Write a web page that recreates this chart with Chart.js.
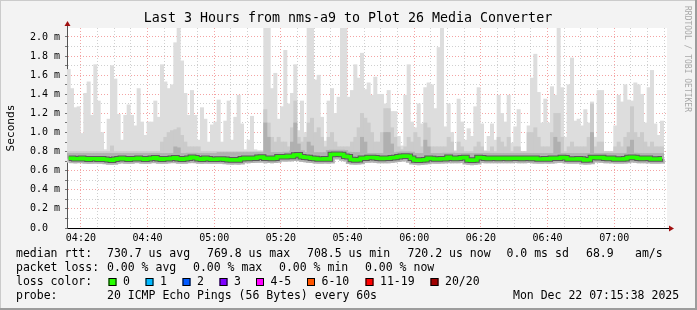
<!DOCTYPE html>
<html>
<head>
<meta charset="utf-8">
<script src="https://cdn.jsdelivr.net/npm/chart.js@4.4.1/dist/chart.umd.min.js"></script>
<style>
  html, body { margin: 0; padding: 0; background: #f3f3f3; }
  #wrap { width: 697px; height: 310px; }
</style>
</head>
<body>
<div id="wrap"><canvas id="smoke" width="697" height="310"></canvas></div>
<script>
// one column per minute, 04:15:50 .. 07:15:50 (values in ms)
const startMin = 4 * 60 + 15 + 50 / 60;
const stepCount = 180;

const maxRtt = [
  1.66,1.46,1.26,1.27,0.99,1.41,1.53,1.18,1.71,1.33,1.00,0.82,1.14,1.70,1.56,1.19,0.92,1.18,1.29,1.18,1.07,1.46,1.11,
  0.97,1.11,1.11,1.33,1.16,1.71,1.53,1.46,1.50,1.94,2.10,1.75,1.41,1.18,1.44,1.18,0.92,1.26,1.14,0.90,1.08,1.11,
  1.34,0.90,1.12,1.33,0.92,1.16,1.39,1.09,0.82,0.92,1.17,0.82,0.81,0.81,2.10,2.10,1.46,1.62,1.14,1.27,1.86,1.30,1.41,
  1.71,1.02,1.33,1.00,2.10,2.10,1.55,1.60,1.16,0.91,1.33,1.46,1.20,1.37,2.10,2.10,1.37,1.44,1.71,1.57,1.83,1.45,
  1.52,1.39,1.58,1.40,1.40,1.30,1.44,1.22,1.22,0.96,0.86,1.39,1.71,1.11,1.05,1.30,1.09,1.47,1.52,1.50,1.25,1.89,2.10,
  1.06,1.30,1.00,0.81,1.35,1.11,0.92,1.04,0.96,1.27,1.47,1.09,0.81,0.96,1.09,0.92,1.39,1.20,1.11,1.39,0.89,1.06,
  1.24,0.80,0.80,1.07,1.57,1.82,1.42,1.10,1.35,1.10,1.48,1.39,2.10,1.47,0.95,1.50,1.78,1.12,1.14,1.07,1.24,1.10,
  1.32,0.95,1.44,1.44,0.80,0.80,0.80,1.07,1.39,1.32,1.50,1.34,1.33,1.52,1.50,1.40,1.10,1.47,1.65,1.09,0.97,1.12,
  null
];

const midRtt = [
  0.80,0.80,0.80,0.80,0.80,0.80,0.80,0.80,0.80,0.80,0.80,0.80,0.80,0.86,0.80,0.80,0.80,0.80,0.80,0.80,0.80,0.80,0.80,
  0.80,0.80,0.80,0.80,0.80,0.90,0.95,1.00,1.02,1.03,1.05,0.97,0.90,0.85,0.85,0.85,0.85,0.80,0.80,0.80,0.80,0.80,
  0.80,0.80,0.80,0.80,0.80,0.80,0.80,0.80,0.80,0.80,0.80,0.80,0.80,0.80,1.24,1.10,0.95,0.90,0.95,0.90,0.90,0.85,1.05,
  1.33,0.95,0.90,0.95,1.10,1.15,1.00,1.05,0.95,0.85,0.95,1.00,0.90,0.85,0.85,0.85,0.85,0.90,0.95,1.05,1.20,1.15,
  1.10,1.00,0.90,0.90,1.00,1.25,1.25,1.05,0.95,0.85,0.82,0.85,0.95,0.90,1.00,0.95,0.85,1.10,1.05,0.85,0.85,0.85,0.85,
  0.85,0.95,0.90,0.80,0.90,0.85,0.80,0.80,0.80,0.85,0.90,0.85,0.80,0.80,0.85,0.80,0.95,0.90,0.85,0.95,0.80,0.85,
  0.85,0.80,0.80,1.00,1.00,1.05,0.95,0.85,0.85,0.85,1.00,1.20,1.20,0.95,0.80,0.85,0.90,0.85,0.85,0.85,0.85,0.95,
  1.30,0.85,0.90,0.90,0.80,0.80,0.80,0.85,0.90,0.85,0.95,1.00,1.27,1.00,0.95,1.00,0.90,0.85,0.90,0.85,0.85,0.85,
  null
];

const darkRtt = [
  0.78,0.78,0.78,0.78,0.78,0.78,0.78,0.78,0.78,0.78,0.78,0.78,0.78,0.78,0.78,0.78,0.78,0.78,0.78,0.78,0.78,0.78,0.78,
  0.78,0.78,0.78,0.78,0.78,0.78,0.78,0.78,0.78,0.85,0.84,0.78,0.78,0.78,0.78,0.78,0.78,0.78,0.78,0.78,0.78,0.78,
  0.79,0.79,0.79,0.79,0.79,0.79,0.79,0.79,0.79,0.79,0.79,0.79,0.79,0.79,1.10,0.95,0.79,0.79,0.79,0.79,0.79,0.79,0.90,
  1.10,0.88,0.79,0.79,0.90,0.86,0.79,0.79,0.79,0.79,0.79,0.79,0.79,0.79,0.79,0.79,0.79,0.79,0.79,0.79,0.95,0.90,
  0.78,0.78,0.78,0.78,0.78,1.00,1.00,0.88,0.78,0.78,0.78,0.78,0.78,0.78,0.78,0.78,0.78,0.92,0.85,0.78,0.78,0.78,0.78,
  0.78,0.78,0.78,0.78,0.78,0.78,0.78,0.78,0.78,0.78,0.78,0.78,0.78,0.78,0.78,0.78,0.78,0.78,0.78,0.78,0.78,0.78,
  0.78,0.78,0.78,0.78,0.78,0.78,0.78,0.78,0.78,0.78,0.78,0.95,0.90,0.78,0.78,0.78,0.78,0.78,0.78,0.78,0.78,0.78,
  1.00,0.78,0.78,0.78,0.78,0.78,0.78,0.78,0.78,0.78,0.78,0.85,0.92,0.78,0.78,0.78,0.78,0.78,0.78,0.78,0.78,0.78,
  null
];

const minRtt = [
  0.69,0.685,0.68,0.685,0.69,0.685,0.675,0.68,0.685,0.68,0.68,0.675,0.67,0.665,0.675,0.68,0.685,0.68,0.675,0.68,0.685,0.69,0.68,
  0.675,0.68,0.685,0.69,0.68,0.675,0.68,0.68,0.685,0.69,0.68,0.675,0.68,0.685,0.69,0.69,0.68,0.675,0.685,0.68,0.675,0.675,
  0.68,0.68,0.675,0.67,0.665,0.67,0.665,0.68,0.685,0.68,0.685,0.685,0.69,0.695,0.68,0.685,0.68,0.685,0.695,0.70,0.695,0.70,0.70,
  0.71,0.715,0.695,0.69,0.69,0.685,0.68,0.675,0.675,0.68,0.675,0.715,0.72,0.72,0.715,0.70,0.695,0.67,0.665,0.67,0.68,0.685,
  0.69,0.69,0.685,0.68,0.68,0.68,0.68,0.685,0.69,0.695,0.70,0.70,0.70,0.68,0.665,0.66,0.665,0.67,0.68,0.68,0.675,0.675,0.68,
  0.68,0.69,0.68,0.68,0.68,0.685,0.69,0.665,0.66,0.665,0.69,0.685,0.68,0.68,0.68,0.68,0.68,0.68,0.68,0.68,0.68,0.685,
  0.68,0.68,0.68,0.685,0.68,0.68,0.675,0.675,0.68,0.675,0.68,0.68,0.685,0.69,0.685,0.675,0.675,0.675,0.68,0.675,0.665,0.67,
  0.69,0.69,0.685,0.69,0.68,0.68,0.685,0.675,0.675,0.675,0.68,0.69,0.69,0.69,0.68,0.68,0.68,0.685,0.675,0.675,0.675,0.68,
  null
];

const medianRtt = [
  0.73,0.73,0.725,0.725,0.73,0.725,0.72,0.725,0.725,0.72,0.725,0.72,0.715,0.71,0.72,0.725,0.73,0.725,0.72,0.725,0.725,0.73,0.725,
  0.72,0.725,0.73,0.735,0.725,0.72,0.725,0.725,0.73,0.735,0.725,0.72,0.725,0.73,0.74,0.735,0.725,0.72,0.73,0.725,0.72,0.72,
  0.723,0.723,0.72,0.715,0.712,0.715,0.712,0.725,0.73,0.728,0.73,0.73,0.74,0.744,0.73,0.73,0.728,0.73,0.745,0.747,0.745,0.75,0.748,
  0.765,0.768,0.745,0.74,0.738,0.73,0.728,0.723,0.722,0.725,0.723,0.77,0.772,0.772,0.77,0.75,0.745,0.718,0.712,0.715,0.73,0.73,
  0.737,0.737,0.735,0.73,0.728,0.73,0.73,0.735,0.737,0.745,0.752,0.755,0.75,0.73,0.712,0.71,0.712,0.715,0.73,0.728,0.722,0.723,0.725,
  0.725,0.742,0.73,0.728,0.73,0.735,0.737,0.712,0.71,0.712,0.737,0.735,0.73,0.728,0.73,0.73,0.728,0.73,0.73,0.728,0.73,0.73,
  0.73,0.728,0.73,0.73,0.728,0.73,0.722,0.723,0.725,0.723,0.73,0.73,0.73,0.737,0.735,0.723,0.722,0.723,0.725,0.723,0.712,0.715,
  0.737,0.738,0.735,0.737,0.73,0.728,0.73,0.723,0.722,0.723,0.725,0.738,0.74,0.737,0.73,0.728,0.73,0.73,0.723,0.722,0.723,0.725,
  null
];

const yTicks = [0,0.1,0.2,0.3,0.4,0.5,0.6,0.7,0.8,0.9,1.0,1.1,1.2,1.3,1.4,1.5,1.6,1.7,1.8,1.9,2.0];

const statLines = [
  { y: 254, parts: [[16, 'median rtt:'], [107, '730.7 us avg'], [207, '769.8 us max'], [307, '708.5 us min'],
                    [407.5, '720.2 us now'], [506.5, '0.0 ms sd'], [586, '68.9'], [635, 'am/s']] },
  { y: 268, parts: [[16, 'packet loss:'], [107, '0.00 % avg'], [193, '0.00 % max'], [279, '0.00 % min'], [365, '0.00 % now']] },
  { y: 282, parts: [[16, 'loss color:']] },
  { y: 296, parts: [[16, 'probe:'], [107, '20 ICMP Echo Pings (56 Bytes) every 60s'], [513, 'Mon Dec 22 07:15:38 2025']] }
];

const lossLabels = ['0', '1', '2', '3', '4-5', '6-10', '11-19', '20/20'];
const lossColors = ['#26ff00', '#00b8ff', '#0059ff', '#7e00ff', '#ff00ff', '#ff5500', '#ff0000', '#a00000'];
const lossBoxX = [108.5, 145.5, 182.5, 219.5, 256, 307, 365.5, 430.5];

const mono = '"DejaVu Sans Mono", monospace';
const pad2 = n => String(n).padStart(2, '0');
const hhmm = m => pad2(Math.floor(m / 60)) + ':' + pad2(Math.round(m % 60));

const labels = [];
for (let i = 0; i < stepCount; i++) labels.push(hhmm(startMin + i));

const decor = {
  id: 'decor',
  beforeDraw(chart) {
    const { ctx, chartArea: a } = chart;
    ctx.save();
    ctx.fillStyle = '#f3f3f3';
    ctx.fillRect(0, 0, 697, 310);
    ctx.fillStyle = '#cbcbcb';
    ctx.fillRect(0, 0, 697, 1);
    ctx.fillRect(0, 0, 1, 310);
    ctx.fillStyle = '#9c9c9c';
    ctx.fillRect(0, 308, 697, 2);
    ctx.fillRect(695, 0, 2, 310);
    ctx.fillStyle = '#ffffff';
    ctx.fillRect(a.left, a.top, a.right - a.left, a.bottom - a.top);
    ctx.restore();
  },
  afterDraw(chart) {
    const { ctx, chartArea: a } = chart;
    ctx.save();
    // axis extensions and arrows
    ctx.strokeStyle = '#555';
    ctx.lineWidth = 1;
    ctx.beginPath();
    ctx.moveTo(a.left + 0.5, a.top);
    ctx.lineTo(a.left + 0.5, a.top - 3);
    ctx.stroke();
    ctx.strokeStyle = '#000';
    ctx.beginPath();
    ctx.moveTo(a.right, a.bottom + 0.5);
    ctx.lineTo(a.right + 3, a.bottom + 0.5);
    ctx.stroke();
    ctx.fillStyle = '#a01010';
    ctx.beginPath();
    ctx.moveTo(a.left + 0.5, a.top - 7);
    ctx.lineTo(a.left - 2.5, a.top - 2);
    ctx.lineTo(a.left + 3.5, a.top - 2);
    ctx.closePath();
    ctx.fill();
    ctx.beginPath();
    ctx.moveTo(a.right + 7, a.bottom + 0.5);
    ctx.lineTo(a.right + 2, a.bottom - 2.5);
    ctx.lineTo(a.right + 2, a.bottom + 3.5);
    ctx.closePath();
    ctx.fill();

    // title
    ctx.fillStyle = '#000';
    ctx.font = '13.3px ' + mono;
    ctx.textAlign = 'center';
    ctx.textBaseline = 'middle';
    ctx.fillText('Last 3 Hours from nms-a9 to Plot 26 Media Converter', 348, 19);

    // y axis title
    ctx.save();
    ctx.translate(11, 128);
    ctx.rotate(-Math.PI / 2);
    ctx.font = '11.2px ' + mono;
    ctx.fillText('Seconds', 0, 0);
    ctx.restore();

    // watermark
    ctx.save();
    ctx.translate(687.5, 59);
    ctx.rotate(Math.PI / 2);
    ctx.font = '8px ' + mono;
    ctx.fillStyle = '#a8a8a8';
    ctx.fillText('RRDTOOL / TOBI OETIKER', 0, 0);
    ctx.restore();

    // legend text
    ctx.font = '11.5px ' + mono;
    ctx.textAlign = 'left';
    ctx.fillStyle = '#000';
    statLines.forEach(line => {
      line.parts.forEach(([x, t]) => ctx.fillText(t, x, line.y));
    });
    lossLabels.forEach((t, i) => {
      const x = lossBoxX[i];
      ctx.fillStyle = lossColors[i];
      ctx.fillRect(x, 278, 8, 8);
      ctx.strokeStyle = '#000';
      ctx.lineWidth = 1;
      ctx.strokeRect(x + 0.5, 278.5, 7, 7);
      ctx.fillStyle = '#000';
      ctx.fillText(t, x + 14.5, 282);
    });
    ctx.restore();
  }
};

const minorGrid = 'rgba(150,150,150,0.45)';
const majorGrid = 'rgba(235,90,90,0.55)';
const noPad = axis => { axis.paddingLeft = 0; axis.paddingRight = 0; axis.paddingTop = 0; axis.paddingBottom = 0; };

new Chart(document.getElementById('smoke'), {
  type: 'bar',
  data: {
    labels: labels,
    datasets: [
      { type: 'line', data: medianRtt, borderColor: '#26ff00', borderWidth: 3.5, pointRadius: 0,
        stepped: 'middle', order: 0, borderCapStyle: 'butt' },
      { type: 'line', data: medianRtt, borderColor: '#5a5a5a', borderWidth: 5.5, pointRadius: 0,
        stepped: 'middle', order: 1, borderCapStyle: 'butt' },
      { type: 'line', data: medianRtt, borderColor: '#b2b2b2', borderWidth: 9, pointRadius: 0,
        stepped: 'middle', order: 2, borderCapStyle: 'butt' },
      { data: medianRtt.map((m, i) => darkRtt[i] == null ? null : [m, darkRtt[i]]),
        backgroundColor: '#b0b0b0', order: 3 },
      { data: minRtt.map((lo, i) => lo == null ? null : [lo, midRtt[i]]),
        backgroundColor: '#cbcbcb', order: 4 },
      { data: minRtt.map((lo, i) => lo == null ? null : [lo, maxRtt[i]]),
        backgroundColor: '#dddddd', order: 5 }
    ]
  },
  options: {
    responsive: false,
    animation: false,
    events: [],
    datasets: {
      bar: { grouped: false, barPercentage: 1, categoryPercentage: 1, borderWidth: 0 }
    },
    layout: { autoPadding: false, padding: { left: 0, right: 30, top: 28, bottom: 68 } },
    plugins: { legend: { display: false }, tooltip: { enabled: false }, title: { display: false } },
    scales: {
      x: { type: 'category', display: false, offset: true, grid: { display: false } },
      xt: {
        type: 'linear', position: 'bottom', min: startMin, max: startMin + 180, z: 1, offset: false,
        afterBuildTicks: axis => {
          axis.ticks = [];
          for (let m = 260; m < startMin + 180; m += 5) axis.ticks.push({ value: m });
        },
        afterFit: axis => { axis.height = 14; noPad(axis); },
        ticks: {
          autoSkip: false, maxRotation: 0, padding: 4, color: '#000',
          font: { family: mono, size: 10 },
          callback: v => (v % 20 === 0 ? hhmm(v) : '')
        },
        grid: {
          offset: false, drawTicks: false, lineWidth: 1,
          color: c => (c.tick && c.tick.value % 20 === 0 ? majorGrid : minorGrid)
        },
        border: { display: true, color: '#000', width: 1, dash: [1, 2] }
      },
      y: {
        type: 'linear', min: 0, max: 2.094, z: 1,
        afterBuildTicks: axis => { axis.ticks = yTicks.map(v => ({ value: v })); },
        afterFit: axis => { axis.width = 67; noPad(axis); },
        ticks: {
          autoSkip: false, padding: 5, color: '#000',
          font: { family: mono, size: 10 },
          callback: v => {
            const k = Math.round(v * 10);
            if (k % 2) return '';
            return k === 0 ? '0.0  ' : v.toFixed(1) + ' m';
          }
        },
        grid: {
          lineWidth: 1, tickLength: 2, tickColor: '#777', tickBorderDash: [],
          color: c => (c.tick && Math.round(c.tick.value * 10) % 2 === 0 ? majorGrid : minorGrid)
        },
        border: { display: true, color: '#555', width: 1, dash: [1, 2] }
      }
    }
  },
  plugins: [decor]
});
</script>
</body>
</html>
